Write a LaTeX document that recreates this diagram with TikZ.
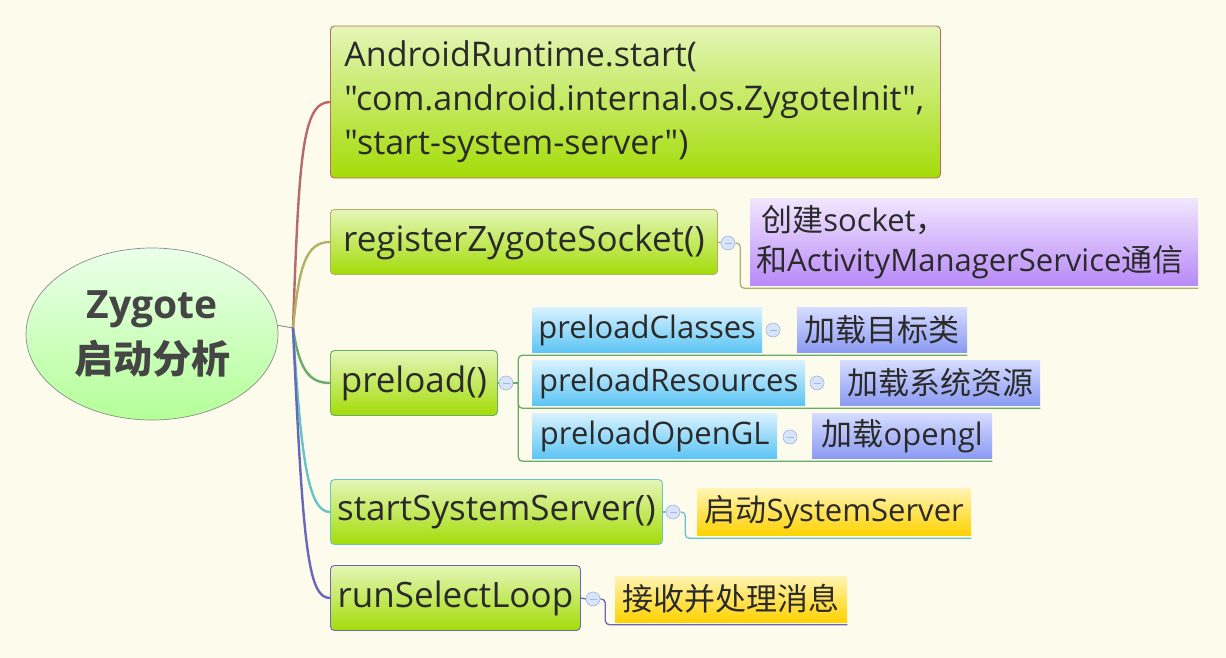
\documentclass[tikz,border=0pt]{standalone}
\usepackage{fontspec}
\setmainfont{Open Sans}
\newfontfamily\latin{Open Sans}
\newfontfamily\cjk{Noto Sans CJK SC}
\usetikzlibrary{positioning,calc,shapes.geometric}
\definecolor{bg}{HTML}{FDFCEC}
\definecolor{ink}{HTML}{2A2A2A}
\definecolor{rootink}{HTML}{454545}
\definecolor{rootline}{HTML}{8C8C8C}
\definecolor{brred}{HTML}{B86A6A}
\definecolor{brolive}{HTML}{B2B066}
\definecolor{brgreen}{HTML}{68AC68}
\definecolor{brteal}{HTML}{68C2C6}
\definecolor{brblue}{HTML}{6868BA}
\definecolor{limetop}{HTML}{E4F6B8}
\definecolor{limebot}{HTML}{A4DC08}
\definecolor{skytop}{HTML}{D8F2FF}
\definecolor{skybot}{HTML}{5CC4F4}
\definecolor{lilactop}{HTML}{D6DCFF}
\definecolor{lilacbot}{HTML}{8A9AF2}
\definecolor{violettop}{HTML}{F2E6FF}
\definecolor{violetbot}{HTML}{B88AF8}
\definecolor{goldtop}{HTML}{FFF4B4}
\definecolor{goldbot}{HTML}{FFD200}
\definecolor{foldfill}{HTML}{D8E4FA}
\definecolor{foldline}{HTML}{A2B6DE}
\tikzset{
  root/.style={ellipse, draw=rootline, line width=0.7pt, top color=green!8!white,
               bottom color=green!30!white!85!lime, minimum width=252pt, minimum height=172pt,
               align=center, text=rootink, font=\latin\fontsize{39}{55}\selectfont\bfseries},
  topic/.style={rounded corners=4pt, line width=0.9pt, top color=limetop, bottom color=limebot,
                text=ink, anchor=west, inner sep=0pt, minimum height=65pt,
                font=\latin\fontsize{35}{44}\selectfont},
  leaf/.style={anchor=west, inner sep=0pt, minimum height=45pt, text=ink,
               font=\latin\fontsize{31}{40}\selectfont},
  skyleaf/.style={leaf, top color=skytop, bottom color=skybot},
  lilacleaf/.style={leaf, top color=lilactop, bottom color=lilacbot},
  violetleaf/.style={leaf, top color=violettop, bottom color=violetbot, align=left},
  goldleaf/.style={leaf, top color=goldtop, bottom color=goldbot},
  fold/.style={circle, minimum size=14pt, inner sep=0pt, fill=foldfill, draw=foldline, line width=0.6pt,
               path picture={\draw[foldline, line width=0.9pt]
                 ([xshift=-3.5pt]path picture bounding box.center) -- ([xshift=3.5pt]path picture bounding box.center);}},
  branch/.style={line width=2.4pt, line cap=round},
  twig/.style={line width=1.3pt, rounded corners=4pt}
}
\begin{document}
\begin{tikzpicture}[x=1pt,y=-1pt]
  \fill[bg] (0,0) rectangle (1226,658);
  \useasboundingbox (0,0) rectangle (1226,658);

  % root
  \node[root] (zyg) at (152,334) {Zygote\\{\cjk 启动分析}};
  \coordinate (hub) at (293,328);
  \draw[rootline, line width=0.9pt] (zyg.4) -- (hub);

  % main topics
  \node[topic, draw=brred, minimum width=610pt, minimum height=152pt, align=left,
        text width=582pt, font=\latin\fontsize{34}{44}\selectfont] (start) at (330,102)
        {AndroidRuntime.start(\\"com.android.internal.os.ZygoteInit",\\"start-system-server")};
  \node[topic, draw=brolive, minimum width=387pt] (reg) at (330,242) {registerZygoteSocket()};
  \node[topic, draw=brgreen, minimum width=167pt] (pre) at (330,383) {preload()};
  \node[topic, draw=brteal, minimum width=332pt] (sys) at (330,512) {startSystemServer()};
  \node[topic, draw=brblue, minimum width=250pt] (loop) at (330,598) {runSelectLoop};

  \draw[branch, brred] (hub) .. controls +(6,-170) and +(-28,0) .. (start.west);
  \draw[branch, brolive] (hub) .. controls +(6,-60) and +(-25,0) .. (reg.west);
  \draw[branch, brgreen] (hub) .. controls +(6,40) and +(-22,0) .. (pre.west);
  \draw[branch, brteal] (hub) .. controls +(8,130) and +(-22,0) .. (sys.west);
  \draw[branch, brblue] (hub) .. controls +(10,220) and +(-22,0) .. (loop.west);

  % registerZygoteSocket
  \node[fold] (regfold) at (728,243) {};
  \node[violetleaf, minimum width=448pt, minimum height=87pt, text width=436pt] (regnote) at (750,242)
        {\,{\cjk 创建}socket{\cjk ，}\\{\cjk 和}ActivityManagerService{\cjk 通信}};
  \draw[twig, brolive] (reg.east) -- (regfold.west);
  \draw[twig, brolive] (regfold.east) -- ++(5,0) |- ([yshift=-2.5pt]regnote.south east);

  % preload
  \node[fold] (prefold) at (506,383) {};
  \node[skyleaf, minimum width=230pt] (cls) at (532,330) {preloadClasses};
  \node[fold] (clsfold) at (773,330) {};
  \node[lilacleaf, minimum width=170pt] (clsnote) at (797,330) {\cjk 加载目标类};
  \node[skyleaf, minimum width=273pt] (res) at (532,383) {preloadResources};
  \node[fold] (resfold) at (817,383) {};
  \node[lilacleaf, minimum width=200pt] (resnote) at (840,383) {\cjk 加载系统资源};
  \node[skyleaf, minimum width=245pt] (gl) at (532,436) {preloadOpenGL};
  \node[fold] (glfold) at (790,437) {};
  \node[lilacleaf, minimum width=180pt] (glnote) at (812,436) {{\cjk 加载}opengl};
  \draw[twig, brgreen] (pre.east) -- (prefold.west);
  \draw[twig, brgreen] (prefold.east) -- ++(5,0) coordinate (fork);
  \draw[twig, brgreen] ([yshift=-2.5pt]clsnote.south east) -| (fork) |- ([yshift=-2.5pt]glnote.south east);
  \draw[twig, brgreen] (fork) |- ([yshift=-2.5pt]resnote.south east);

  % startSystemServer
  \node[fold] (sysfold) at (673,512) {};
  \node[goldleaf, minimum width=274pt, minimum height=47pt] (sysnote) at (697,512) {{\cjk 启动}SystemServer};
  \draw[twig, brteal] (sys.east) -- (sysfold.west);
  \draw[twig, brteal] (sysfold.east) -- ++(5,0) |- ([yshift=-2.5pt]sysnote.south east);

  % runSelectLoop
  \node[fold] (loopfold) at (593,599) {};
  \node[goldleaf, minimum width=232pt, minimum height=46pt] (loopnote) at (615,599) {\cjk 接收并处理消息};
  \draw[twig, brblue] (loop.east) -- (loopfold.west);
  \draw[twig, brblue] (loopfold.east) -- ++(5,0) |- ([yshift=-2.5pt]loopnote.south east);
\end{tikzpicture}
\end{document}
